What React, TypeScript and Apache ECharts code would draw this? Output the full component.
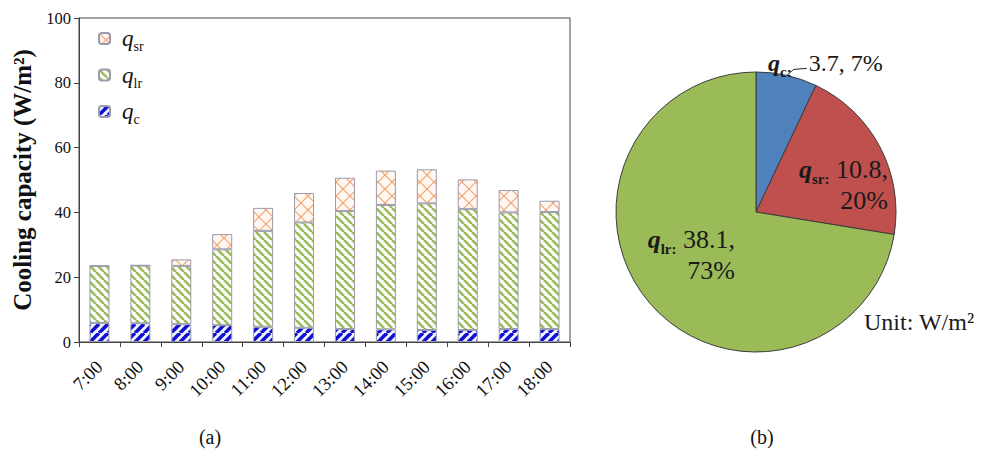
import React, { useEffect, useRef } from "react";
import * as echarts from "echarts";

// ---- data ----
const hours = ["7:00", "8:00", "9:00", "10:00", "11:00", "12:00", "13:00", "14:00", "15:00", "16:00", "17:00", "18:00"];
const qcValues = [5.9, 5.8, 5.5, 5.2, 4.7, 4.4, 4.0, 3.9, 3.7, 3.7, 4.0, 4.0];
const qlrValues = [17.6, 17.8, 18.0, 23.4, 29.6, 32.5, 36.4, 38.4, 39.1, 37.3, 36.0, 36.1];
const qsrValues = [0, 0.1, 2.0, 4.7, 7.1, 9.1, 10.3, 10.6, 10.5, 9.2, 6.9, 3.5];
const yMin = 0;
const yMax = 100;
const yStep = 20;

const seriesNames = ["qc", "qlr", "qsr"];
const seriesSubs: Record<string, string> = { qc: "c", qlr: "lr", qsr: "sr" };

const pieNames = ["q_c", "q_sr", "q_lr"];
const pieSubs = ["c", "sr", "lr"];
const pieValues = [3.7, 10.8, 38.1];
const piePercents = ["7%", "20%", "73%"];
const pieColors = ["#4F81BD", "#C0504D", "#9BBB59"];

const SERIF = "'Liberation Serif', 'Times New Roman', serif";

function makePattern(kind: "slash" | "back" | "cross", fg: string, bg: string, size: number, lw: number) {
  const c = document.createElement("canvas");
  c.width = size;
  c.height = size;
  const ctx = c.getContext("2d")!;
  ctx.fillStyle = bg;
  ctx.fillRect(0, 0, size, size);
  ctx.strokeStyle = fg;
  ctx.lineWidth = lw;
  const slash = () => {
    for (const k of [-1, 0, 1]) {
      ctx.beginPath();
      ctx.moveTo(k * size, size);
      ctx.lineTo(k * size + size, 0);
      ctx.stroke();
    }
  };
  const back = () => {
    for (const k of [-1, 0, 1]) {
      ctx.beginPath();
      ctx.moveTo(k * size, 0);
      ctx.lineTo(k * size + size, size);
      ctx.stroke();
    }
  };
  if (kind === "slash") slash();
  else if (kind === "back") back();
  else {
    slash();
    back();
  }
  return { image: c.toDataURL(), imageWidth: size, imageHeight: size, repeat: "repeat" } as any;
}

export default function App() {
  const ref = useRef<HTMLDivElement>(null);

  useEffect(() => {
    if (!ref.current) return;
    const chart = echarts.init(ref.current, null, { renderer: "svg" });

    const patterns: Record<string, any> = {
      qc: makePattern("slash", "#1010d0", "#f2f5ff", 9, 3.6),
      qlr: makePattern("back", "#9BBB59", "#ffffff", 8, 2.6),
      qsr: makePattern("cross", "#F3A36E", "#FFF8F2", 14, 1.2),
    };
    const valuesByName: Record<string, number[]> = { qc: qcValues, qlr: qlrValues, qsr: qsrValues };

    const cx = 756;
    const cy = 212;
    const R = 140;

    const legendRich = {
      q: { fontFamily: SERIF, fontStyle: "italic", fontSize: 23, color: "#111", lineHeight: 30, padding: [0, 0, 0, 7] },
      s: { fontFamily: SERIF, fontSize: 14, color: "#111", verticalAlign: "bottom", lineHeight: 14 },
    };

    const pieRich = {
      q: { fontFamily: SERIF, fontStyle: "italic", fontWeight: "bold", fontSize: 26, color: "#1a1a1a", lineHeight: 34 },
      s: { fontFamily: SERIF, fontWeight: "bold", fontSize: 15, color: "#1a1a1a", verticalAlign: "bottom", lineHeight: 15 },
      n: { fontFamily: SERIF, fontSize: 26, color: "#1a1a1a", lineHeight: 28 },
      q0: { fontFamily: SERIF, fontStyle: "italic", fontWeight: "bold", fontSize: 24, color: "#1a1a1a", lineHeight: 32 },
      n0: { fontFamily: SERIF, fontSize: 24, color: "#1a1a1a", lineHeight: 28, padding: [0, 0, 0, 17] },
    };

    chart.setOption({
      animation: false,
      backgroundColor: "#ffffff",
      grid: {
        left: 79,
        top: 18,
        right: 412,
        bottom: 114,
        show: true,
        borderColor: "#444",
        borderWidth: 1,
        backgroundColor: "transparent",
      },
      legend: {
        orient: "vertical",
        left: 93,
        top: 22,
        itemWidth: 11,
        itemHeight: 11,
        itemGap: 10,
        data: ["qsr", "qlr", "qc"],
        formatter: (name: string) => `{q|q}{s|${seriesSubs[name]}}`,
        textStyle: { rich: legendRich },
      },
      xAxis: {
        type: "category",
        data: hours,
        axisLine: { lineStyle: { color: "#444", width: 1 } },
        axisTick: { show: true, interval: 0, length: 5, lineStyle: { color: "#444" } },
        axisLabel: { interval: 0, rotate: 45, fontFamily: SERIF, fontSize: 18.5, color: "#111", margin: 22 },
      },
      yAxis: {
        type: "value",
        min: yMin,
        max: yMax,
        interval: yStep,
        name: "Cooling capacity (W/m²)",
        nameLocation: "middle",
        nameGap: 44,
        nameTextStyle: { fontFamily: SERIF, fontWeight: "bold", fontSize: 25, color: "#111" },
        axisLine: { show: true, lineStyle: { color: "#444", width: 1 } },
        axisTick: { show: true, length: 5, lineStyle: { color: "#444" } },
        axisLabel: { fontFamily: SERIF, fontSize: 16.5, color: "#111", margin: 8 },
        splitLine: { show: false },
      },
      series: [
        ...seriesNames.map((name) => ({
          type: "bar",
          name,
          stack: "total",
          barWidth: 20,
          data: valuesByName[name],
          itemStyle: { color: patterns[name], borderColor: "#9a9aac", borderWidth: 1 },
        })),
        {
          type: "pie",
          center: [cx, cy],
          radius: R,
          startAngle: 90,
          clockwise: true,
          avoidLabelOverlap: false,
          itemStyle: { borderColor: "#3c3c3c", borderWidth: 1 },
          data: pieNames.map((name, i) => ({
            name,
            value: pieValues[i],
            itemStyle: { color: pieColors[i] },
            label: { position: i === 0 ? "outside" : "inside" },
            labelLine: { show: i === 0, length: 4, length2: 4, lineStyle: { color: "#222", width: 1 } },
          })),
          label: {
            show: true,
            formatter: (p: any) => {
              const i = p.dataIndex;
              if (i === 0) return `{q0|q}{s|${pieSubs[i]}:}{n0|${pieValues[i]}, ${piePercents[i]}}`;
              return `{q|q}{s|${pieSubs[i]}:}{n| ${pieValues[i]},}\n{n|${piePercents[i]}}`;
            },
            rich: pieRich,
          },
          labelLayout: (params: any) => {
            const i = params.dataIndex;
            if (i === 0) {
              const a = params.labelLinePoints ? params.labelLinePoints[0] : [cx + 30, cy - R + 3];
              return {
                x: cx + 12,
                y: cy - R - 9,
                align: "left",
                verticalAlign: "middle",
                labelLinePoints: [
                  [a[0], a[1]],
                  [a[0] + 7, a[1] - 6],
                  [a[0] + 20, a[1] - 7],
                ],
              };
            }
            if (i === 1) return { x: cx + 132, y: cy - 29, align: "right", verticalAlign: "middle" };
            return { x: cx - 21, y: cy + 41, align: "right", verticalAlign: "middle" };
          },
        },
      ],
      graphic: [
        { type: "text", x: 210, y: 437, style: { text: "(a)", fontFamily: SERIF, fontSize: 20, fill: "#111", textAlign: "center", textVerticalAlign: "middle" } },
        { type: "text", x: 762, y: 437, style: { text: "(b)", fontFamily: SERIF, fontSize: 20, fill: "#111", textAlign: "center", textVerticalAlign: "middle" } },
        { type: "text", x: 864, y: 322, style: { text: "Unit: W/m²", fontFamily: SERIF, fontSize: 24, fill: "#1a1a1a", textAlign: "left", textVerticalAlign: "middle" } },
      ],
    });

    return () => chart.dispose();
  }, []);

  return <div ref={ref} style={{ position: "fixed", left: 0, top: 0, width: 982, height: 456 }} />;
}
